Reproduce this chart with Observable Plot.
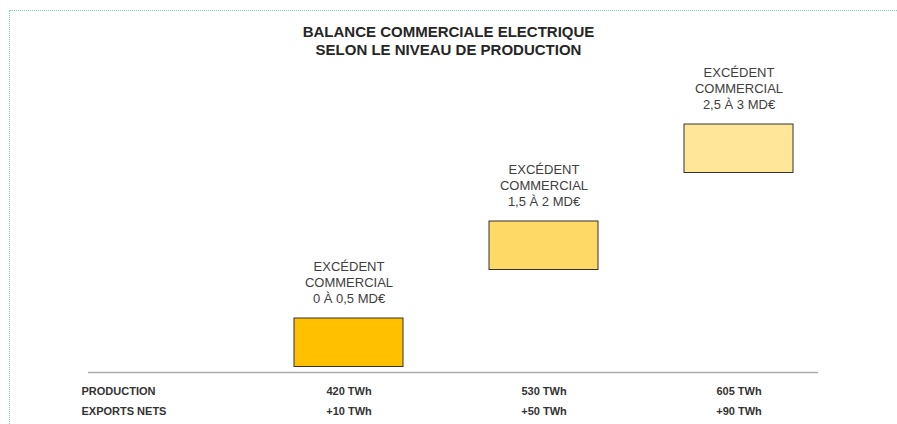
<!DOCTYPE html>
<html>
<head>
<meta charset="utf-8">
<script src="https://cdn.jsdelivr.net/npm/d3@7"></script>
<script src="https://cdn.jsdelivr.net/npm/@observablehq/plot@0.6"></script>
<style>
  html, body { margin: 0; padding: 0; background: #fff; }
  body { width: 897px; height: 424px; position: relative; overflow: hidden; font-family: "Liberation Sans", Arial, sans-serif; }
  #frame { position: absolute; left: 9px; top: 10px; width: 1000px; height: 500px; border-top: 1px dotted #7fd3bd; border-left: 1px dotted #7fd3bd; box-sizing: border-box; pointer-events: none; }
  #title { height: 60px; box-sizing: border-box; padding-top: 23px; text-align: center; font-weight: bold; font-size: 15px; line-height: 18px; color: #262626; }
  #chart svg { display: block; }
</style>
</head>
<body>
<div id="frame"></div>
<div id="title">BALANCE COMMERCIALE ELECTRIQUE<br>SELON LE NIVEAU DE PRODUCTION</div>
<div id="chart"></div>
<script>
// Data
const production = [420, 530, 605];          // TWh
const exportsNets = [10, 50, 90];            // TWh
const surplusLow = [0, 1.5, 2.5];            // MD€
const surplusHigh = [0.5, 2, 3];             // MD€
const levels = [0, 1, 2];                    // vertical step of each box
const fills = ["#FFC000", "#FFD966", "#FFE699"];
const rowLabels = ["PRODUCTION", "EXPORTS NETS"];

const fmt = v => String(v).replace(".", ",");
const data = production.map((p, i) => ({
  prod: p,
  exp: exportsNets[i],
  low: surplusLow[i],
  high: surplusHigh[i],
  level: levels[i],
  fill: fills[i]
}));

const chart = Plot.plot({
  width: 897,
  height: 364,
  marginLeft: 88,
  marginRight: 79,
  marginTop: 0,
  marginBottom: 52,
  style: { fontFamily: "'Liberation Sans', Arial, sans-serif", background: "transparent" },
  x: { type: "band", domain: production, range: [206, 880], padding: 0.4423, axis: null },
  y: { domain: [0, 2.5], range: [306.5, 64], axis: null },
  color: { type: "identity" },
  marks: [
    Plot.ruleY([0], { dy: 5.5, stroke: "#aaaaaa", strokeWidth: 1.6 }),
    Plot.barY(data, {
      x: "prod",
      y1: "level",
      y2: d => d.level + 0.5,
      fill: "fill",
      stroke: "#333333",
      strokeWidth: 1
    }),
    Plot.text(data, {
      x: "prod",
      y: d => d.level + 0.5,
      text: d => `EXCÉDENT\nCOMMERCIAL\n${fmt(d.low)} À ${fmt(d.high)} MD€`,
      lineAnchor: "bottom",
      lineHeight: 1.2,
      dy: -16,
      fontSize: 13,
      fill: "#404040"
    }),
    Plot.text(data, {
      x: "prod",
      frameAnchor: "bottom",
      text: d => `${d.prod} TWh`,
      dy: 22,
      fontSize: 11,
      fontWeight: "bold",
      fill: "#333333"
    }),
    Plot.text(data, {
      x: "prod",
      frameAnchor: "bottom",
      text: d => `+${d.exp} TWh`,
      dy: 42,
      fontSize: 11,
      fontWeight: "bold",
      fill: "#333333"
    }),
    Plot.text([rowLabels[0]], {
      frameAnchor: "bottom-left",
      text: d => d,
      textAnchor: "start",
      dx: -7,
      dy: 22,
      fontSize: 11,
      fontWeight: "bold",
      fill: "#333333"
    }),
    Plot.text([rowLabels[1]], {
      frameAnchor: "bottom-left",
      text: d => d,
      textAnchor: "start",
      dx: -7,
      dy: 42,
      fontSize: 11,
      fontWeight: "bold",
      fill: "#333333"
    })
  ]
});
document.getElementById("chart").appendChild(chart);
</script>
</body>
</html>
